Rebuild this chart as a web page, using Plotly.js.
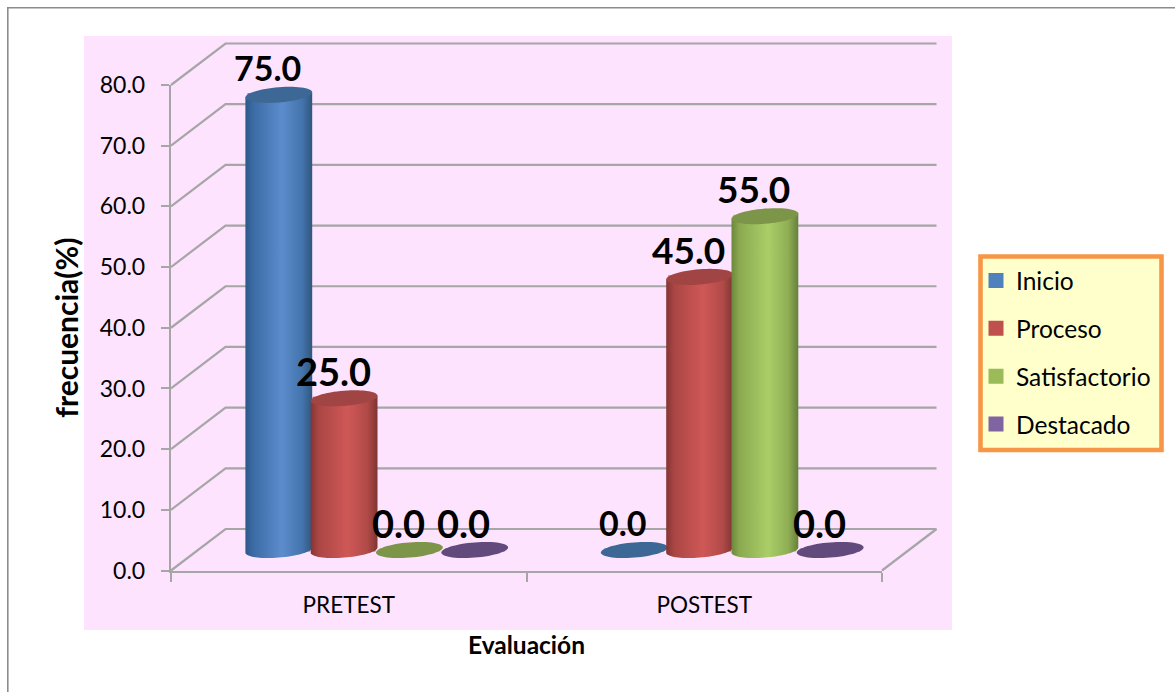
<!DOCTYPE html>
<html>
<head>
<meta charset="utf-8">
<script src="https://cdn.plot.ly/plotly-3.0.1.min.js"></script>
<style>html,body{margin:0;padding:0;background:#fff}</style>
</head>
<body>
<div id="chart" style="width:1175px;height:692px"></div>
<script>
// ---- data ----
const categories = ['PRETEST', 'POSTEST'];
const inicio = [75, 0];
const proceso = [25, 45];
const satisfactorio = [0, 55];
const destacado = [0, 0];
const seriesNames = ['Inicio', 'Proceso', 'Satisfactorio', 'Destacado'];
const yTicks = [0, 10, 20, 30, 40, 50, 60, 70, 80];
const yTitle = 'frecuencia(%)';
const xTitle = 'Evaluación';

// ---- styles ----
const legendColors = ['#4F81BD', '#C0504D', '#9BBB59', '#8064A2'];
const capColors = ['#3D6795', '#A04543', '#7D9548', '#634A7D'];
const bodyScales = [
  [[0,'#2B5888'],[0.12,'#3C6CA6'],[0.55,'#5C8CCC'],[0.85,'#4474AC'],[1,'#30567F']],
  [[0,'#853533'],[0.12,'#AA4644'],[0.55,'#CF5856'],[0.85,'#B04A48'],[1,'#7E3533']],
  [[0,'#6C873C'],[0.12,'#8BAA50'],[0.55,'#AACE68'],[0.85,'#8FAE54'],[1,'#64803A']],
  [[0,'#4E3A68'],[0.5,'#8064A2'],[1,'#4E3A68']]
];
const labelSizes = [[34, 34], [38, 37], [38, 37], [38, 38]]; // per series, per category
const seriesValues = [inicio, proceso, satisfactorio, destacado];

// ---- geometry: pixels of the frame ----
const L = 171, R = 882, T = 85, B = 570.5, W = 1175, H = 692;
const WL = 166, WR = 940, WT = 38, WB = 575;   // region of the hidden wall subplot
const pxX = (R - L) / 2, pxY = (B - T) / 80;
const paperX = p => (p - WL) / (WR - WL);
const paperY = p => (WB - p) / (WB - WT);
const depthX = 54.5 / pxX, depthY = 41.5 / pxY; // back wall offset
const baseY = 20.5 / pxY, shiftX = 28 / pxX;    // bars stand mid-depth
const pitch = 65.3 / pxX, halfW = 33.4 / pxX;
const inset = 3.5 / pxX;
const halfH = 7.6 / pxY, tilt = 2.6 / pxY;

function centre(cat, s) { return cat + 0.5 + shiftX + (s - 1.5) * pitch; }
function ell(cx, cy, t) {
  return [cx + halfW * Math.cos(t), cy + tilt * Math.cos(t) + halfH * Math.sin(t)];
}
const traces = [];
const grey = '#A6A6A6';

// back wall and side wall grid (first subplot, so it sits behind the bars)
yTicks.forEach(v => {
  traces.push({
    type: 'scatter', mode: 'lines', xaxis: 'x', yaxis: 'y',
    x: [0, depthX, 2 + depthX], y: [v, v + depthY, v + depthY],
    line: { color: grey, width: 2.2 }, showlegend: false, hoverinfo: 'skip'
  });
});
traces.push({
  type: 'scatter', mode: 'lines', xaxis: 'x', yaxis: 'y',
  x: [2, 2 + depthX], y: [0, depthY],
  line: { color: grey, width: 2.2 }, showlegend: false, hoverinfo: 'skip'
});

// bars (real values, carrying the legend)
seriesValues.forEach((vals, s) => {
  traces.push({
    type: 'bar', xaxis: 'x2', yaxis: 'y2', cliponaxis: false,
    name: seriesNames[s], legendgroup: seriesNames[s],
    x: categories.map((c, i) => i + 0.5), y: vals,
    base: vals.map(() => baseY), width: (halfW - inset) * 2,
    offset: categories.map((c, i) => centre(i, s) - (i + 0.5) - (halfW - inset)),
    marker: { color: legendColors[s], line: { color: legendColors[s], width: 3 } },
    hoverinfo: 'x+y'
  });
});

// cylinder shading drawn on top of the bars, left to right
seriesValues.forEach((vals, s) => {
  vals.forEach((v, i) => {
    const cx = centre(i, s), topY = baseY + v;
    if (v > 0) {
      const xs = [], ys = [];
      for (let k = 0; k <= 36; k++) {
        const p = ell(cx, baseY, Math.PI + k / 36 * Math.PI);
        xs.push(p[0]); ys.push(p[1]);
      }
      const pr = ell(cx, topY, 0), pl = ell(cx, topY, Math.PI);
      xs.push(pr[0], pl[0]); ys.push(pr[1], pl[1]);
      xs.push(xs[0]); ys.push(ys[0]);
      traces.push({
        type: 'scatter', mode: 'none', xaxis: 'x2', yaxis: 'y2', cliponaxis: false,
        x: xs, y: ys, fill: 'toself',
        fillgradient: { type: 'horizontal', colorscale: bodyScales[s] },
        showlegend: false, hoverinfo: 'skip'
      });
    }
    const ex = [], ey = [];
    for (let k = 0; k <= 60; k++) {
      const p = ell(cx, topY, k / 60 * 2 * Math.PI);
      ex.push(p[0]); ey.push(p[1]);
    }
    traces.push({
      type: 'scatter', mode: 'none', xaxis: 'x2', yaxis: 'y2', cliponaxis: false,
      x: ex, y: ey, fill: 'toself', fillcolor: capColors[s],
      showlegend: false, hoverinfo: 'skip'
    });
  });
});

// data labels, anchored on the bar tops
const annotations = [];
seriesValues.forEach((vals, s) => vals.forEach((v, i) => {
  annotations.push({
    xref: 'x2', yref: 'y2', x: centre(i, s), y: baseY + v,
    xshift: -11, yshift: 27.5, text: v.toFixed(1), showarrow: false,
    xanchor: 'center', yanchor: 'middle',
    font: { family: 'Lato', size: labelSizes[s][i], color: '#000', weight: 700 }
  });
}));

const layout = {
  width: W, height: H,
  margin: { l: WL, r: W - WR, t: WT, b: H - WB, pad: 0 },
  paper_bgcolor: '#FFFFFF', plot_bgcolor: 'rgba(0,0,0,0)',
  font: { family: 'Lato', color: '#000' },
  barmode: 'overlay', showlegend: true,
  xaxis: { visible: false, domain: [0, 1], range: [(WL - L) / pxX, (WR - L) / pxX], fixedrange: true },
  yaxis: { visible: false, domain: [0, 1], range: [(B - WB) / pxY, (B - WT) / pxY], fixedrange: true },
  xaxis2: {
    anchor: 'y2', domain: [paperX(L), paperX(R)], range: [0, 2],
    tickmode: 'array', tickvals: [0.5, 1.5], ticktext: categories, ticks: '', ticklabelstandoff: 13,
    tickfont: { family: 'Lato', size: 22.5, color: '#000' },
    minor: { tickmode: 'array', tickvals: [0, 1, 2], ticks: 'outside', ticklen: 9, tickwidth: 2, tickcolor: grey, showgrid: false },
    showgrid: false, zeroline: false, showline: true, linecolor: grey, linewidth: 2.2,
    title: { text: xTitle, standoff: 20, font: { family: 'Lato', size: 24.5, color: '#000', weight: 700 } }
  },
  yaxis2: {
    anchor: 'x2', domain: [paperY(B), paperY(T)], range: [0, 80],
    tickmode: 'array', tickvals: yTicks, tickformat: '.1f', ticklabelstandoff: 11,
    ticks: 'outside', ticklen: 8, tickwidth: 2, tickcolor: grey,
    tickfont: { family: 'Lato', size: 23, color: '#000' },
    showgrid: false, zeroline: false, showline: true, linecolor: grey, linewidth: 2.2,
    title: { text: yTitle, standoff: 12, font: { family: 'Lato', size: 30, color: '#000', weight: 700 } }
  },
  legend: {
    x: paperX(976), y: paperY(258), xanchor: 'left', yanchor: 'top',
    bgcolor: 'rgba(0,0,0,0)', borderwidth: 0, traceorder: 'grouped', tracegroupgap: 13,
    font: { family: 'Lato', size: 24.5, color: '#000' }
  },
  annotations: annotations,
  shapes: [
    { type: 'rect', layer: 'below', xref: 'paper', yref: 'paper',
      x0: paperX(7.8), x1: paperX(1185), y0: paperY(7.8), y1: paperY(702),
      line: { color: '#8C8C8C', width: 1.6 }, fillcolor: '#FFFFFF' },
    { type: 'rect', layer: 'below', xref: 'paper', yref: 'paper',
      x0: paperX(84), x1: paperX(952), y0: paperY(36), y1: paperY(630),
      line: { width: 0 }, fillcolor: '#FDE3FD' },
    { type: 'rect', layer: 'below', xref: 'paper', yref: 'paper',
      x0: paperX(980.5), x1: paperX(1161.5), y0: paperY(256.5), y1: paperY(450),
      line: { color: '#F79646', width: 4.6 }, fillcolor: '#FFFFCC' }
  ]
};
Plotly.newPlot('chart', traces, layout, { displayModeBar: false, staticPlot: true });
</script>
</body>
</html>
